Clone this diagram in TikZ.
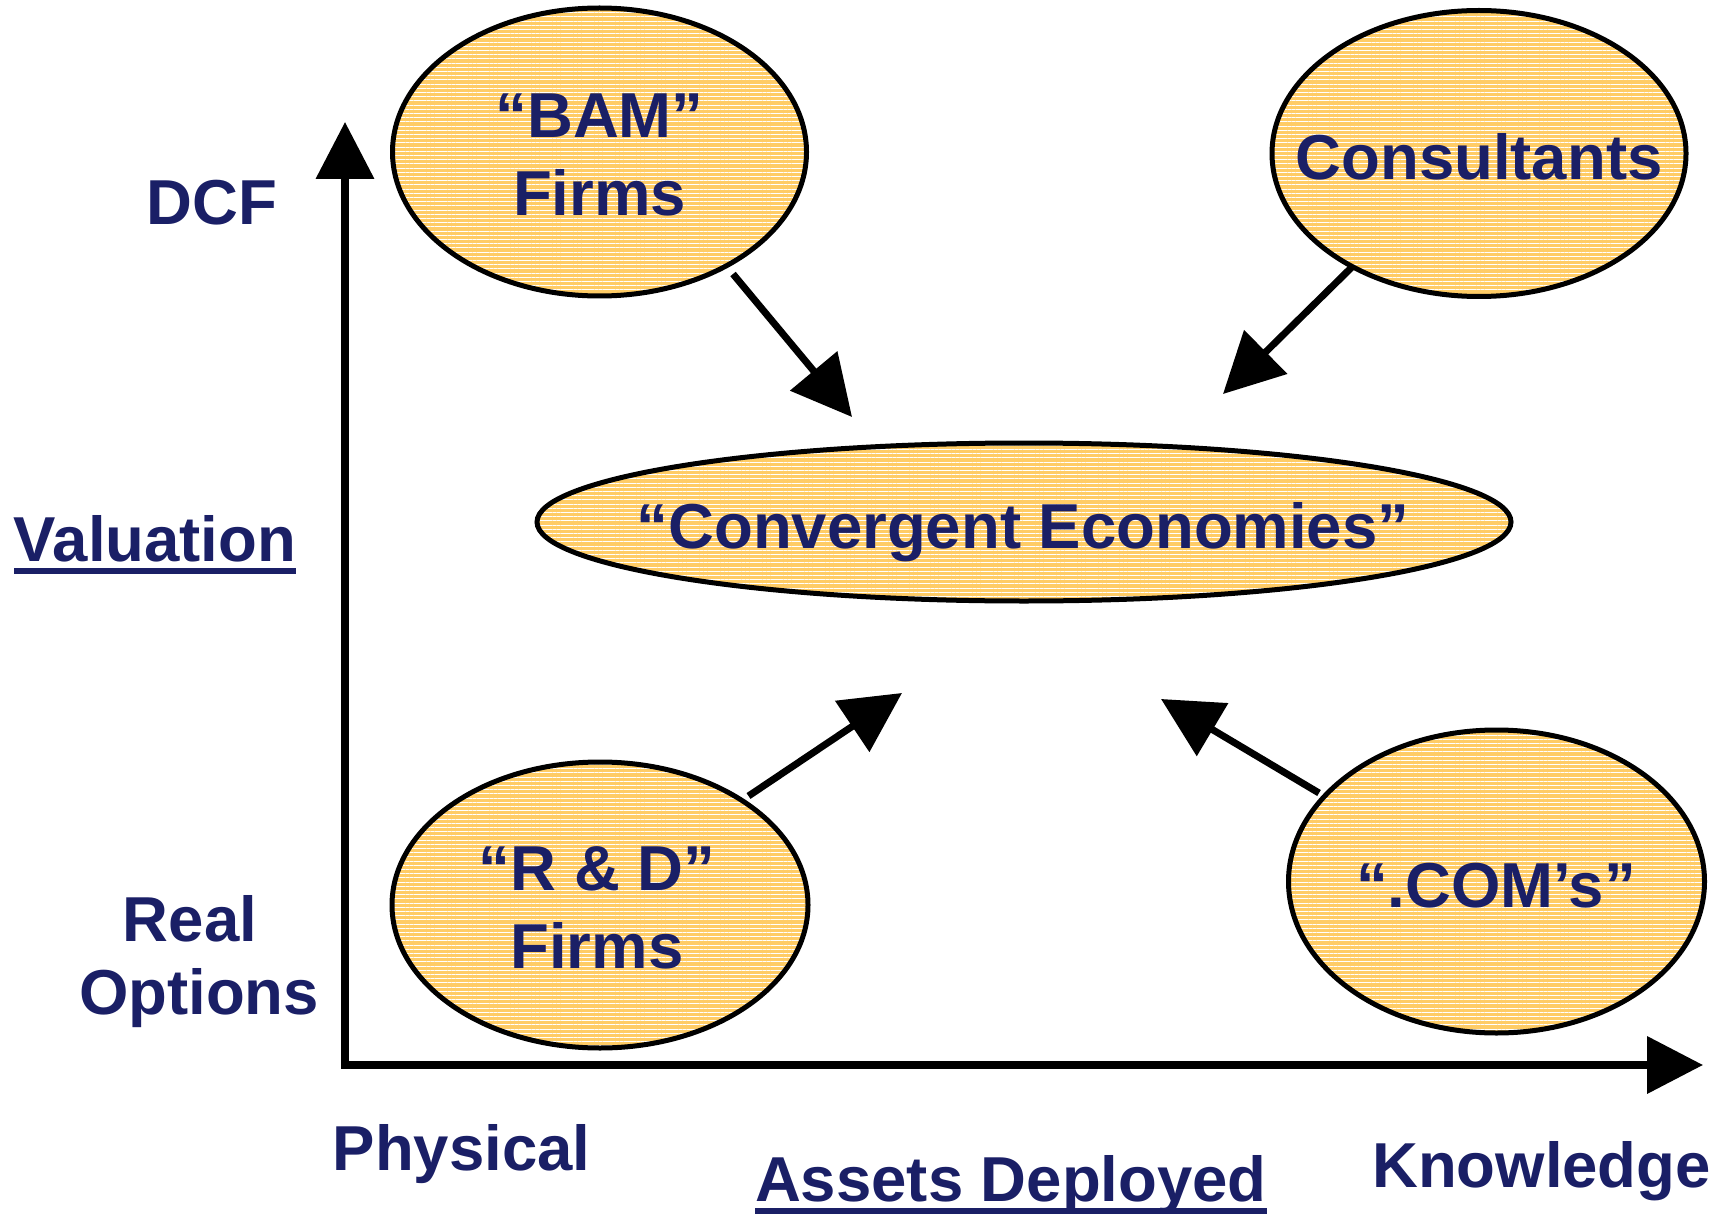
\documentclass[tikz,border=0pt]{standalone}
\usepackage{fontspec}
\setmainfont{Liberation Sans}
\usetikzlibrary{arrows.meta,shapes.geometric,patterns.meta}
\definecolor{navy}{RGB}{26,31,102}
\definecolor{oran}{RGB}{255,204,102}
\newcommand\ulx[1]{\setbox0\hbox{#1}\rlap{\copy0}\rule[-13pt]{\wd0}{6pt}}
\begin{document}
\begin{tikzpicture}[x=1pt,y=-1pt,
  lab/.style={font=\fontsize{63.5}{78}\selectfont\bfseries, text=navy, inner sep=0pt},
  blob/.style={ellipse, draw=black, line width=5pt, preaction={fill=oran},
    pattern={Lines[angle=0,distance=4.2pt,line width=1pt]}, pattern color=white, inner sep=0pt},
  arr/.style={line width=7pt, -{Triangle[length=60pt,width=60pt]}},
  axis/.style={line width=7.3pt, line join=miter, {Triangle[length=57pt,width=57pt]}-{Triangle[length=56pt,width=56pt]}}]
\useasboundingbox (0,0) rectangle (1731,1214);
% axes
\coordinate (o) at (345,1065);
\coordinate (ytip) at (345,122);
\coordinate (xtip) at (1703,1065);
\draw[axis] (ytip) -- (o) -- (xtip);
% ellipses
\node[blob, minimum width=414pt, minimum height=288pt] (bam) at (599.5,152) {};
\node[blob, minimum width=414pt, minimum height=286pt] (cons) at (1479,153.5) {};
\node[blob, minimum width=974pt, minimum height=158pt] (conv) at (1024,522) {};
\node[blob, minimum width=416pt, minimum height=286pt] (rd) at (600,905) {};
\node[blob, minimum width=416pt, minimum height=303pt] (com) at (1496.5,881.5) {};
% ellipse texts
\node[lab, align=center] (tbam) at (599.5,155) {“BAM”\\Firms};
\node[lab, anchor=base] (tcons) at (1479,180) {Consultants};
\node[lab, anchor=base] (tconv) at (1023,548) {“Convergent Economies”};
\node[lab, align=center] (trd) at (597,908) {“R \& D”\\Firms};
\node[lab, anchor=base] (tcom) at (1496,907.5) {“.COM’s”};
% axis labels
\node[lab, anchor=base] (dcf) at (212,225) {DCF};
\node[lab, anchor=base] (val) at (155,561) {\ulx{Valuation}};
\node[lab, anchor=base] (real) at (190,941) {Real};
\node[lab, anchor=base] (opt) at (199,1014) {Options};
\node[lab, anchor=base] (phys) at (461.5,1170) {Physical};
\node[lab, anchor=base] (assets) at (1011,1201) {\ulx{Assets Deployed}};
\node[lab, anchor=base] (know) at (1541.5,1187) {Knowledge};
% arrows
\coordinate (a1s) at (733,274);   \coordinate (a1e) at (852,417);
\coordinate (a2s) at (1352,267);  \coordinate (a2e) at (1223,394);
\coordinate (a3s) at (748.5,796); \coordinate (a3e) at (902,693);
\coordinate (a4s) at (1319,793);  \coordinate (a4e) at (1161,699);
\draw[arr] (a1s) -- (a1e);
\draw[arr] (a2s) -- (a2e);
\draw[arr] (a3s) -- (a3e);
\draw[arr] (a4s) -- (a4e);
\end{tikzpicture}
\end{document}
